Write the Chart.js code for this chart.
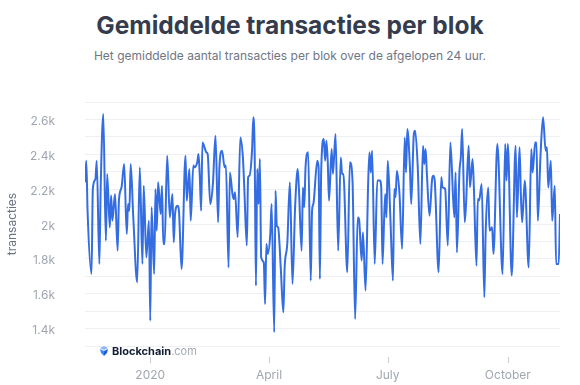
<!DOCTYPE html>
<html>
<head>
<meta charset="utf-8">
<script src="https://cdn.jsdelivr.net/npm/chart.js@4.4.0/dist/chart.umd.min.js"></script>
<style>
  html, body { margin: 0; padding: 0; background: #fff; }
  #wrap { position: relative; width: 580px; height: 385px; font-family: Inter, "Noto Sans", sans-serif; }
  #title { position: absolute; top: 9px; left: 0; width: 580px; margin: 0; text-align: center;
           font-size: 24.5px; font-weight: 700; line-height: 32px; color: #353c4d; }
  #subtitle { position: absolute; top: 47px; left: 0; width: 580px; margin: 0; text-align: center;
              font-size: 12px; line-height: 18px; color: #6f7685; }
  canvas { position: absolute; left: 0; top: 0; }
</style>
</head>
<body>
<div id="wrap">
  <h1 id="title">Gemiddelde transacties per blok</h1>
  <p id="subtitle">Het gemiddelde aantal transacties per blok over de afgelopen 24 uur.</p>
  <canvas id="chart" width="580" height="385"></canvas>
</div>
<script>
// day offsets from 1 Jan 2020 at each turn of the line
const days = [
  -50, -49, -48, -45, -44, -42, -41, -39, -38, -36, -34, -33, -31, -30, -29, -27, -25, -24, -22, -20,
  -18, -17, -16, -15, -13, -10, -8, -6, -5, -3, -1, 0, 1, 3, 4, 5, 6, 8, 9, 10,
  11, 13, 15, 17, 18, 19, 21, 22, 24, 27, 28, 30, 31, 33, 34, 36, 37, 38, 39, 40,
  42, 43, 44, 46, 48, 50, 52, 53, 55, 57, 58, 60, 61, 63, 64, 65, 67, 69, 71, 72,
  74, 75, 76, 78, 79, 80, 81, 82, 83, 84, 85, 87, 88, 89, 90, 92, 93, 95, 96, 97,
  98, 100, 102, 103, 105, 107, 109, 111, 113, 114, 116, 117, 118, 119, 121, 123, 124, 125, 128, 129,
  130, 131, 133, 134, 135, 136, 137, 139, 140, 142, 144, 146, 147, 148, 151, 153, 155, 157, 159, 160,
  162, 163, 165, 167, 168, 169, 170, 172, 174, 176, 177, 178, 180, 181, 182, 184, 186, 187, 188, 189,
  191, 193, 195, 196, 197, 199, 200, 202, 203, 205, 207, 209, 210, 211, 212, 214, 216, 217, 218, 221,
  223, 224, 226, 228, 230, 233, 234, 235, 237, 238, 239, 241, 242, 244, 245, 247, 248, 250, 251, 252,
  254, 256, 257, 259, 260, 262, 263, 266, 270, 272, 273, 274, 277, 280, 281, 283, 284, 285, 287, 290,
  292, 293, 295, 296, 297, 299, 301, 303, 304, 305, 307, 308, 310, 311, 313, 314
];
const txPerBlock = [
  2239, 2363, 2067, 1713, 2201, 2258, 2363, 1771, 2200, 2631, 1904, 2287, 1981, 2163, 2019, 2172, 1847, 2134, 2210, 2344,
  1943, 2115, 2076, 2344, 2038, 1665, 2325, 1771, 2220, 1809, 2019, 1445, 2096, 1713, 2200, 1962, 2239, 2057, 2220, 1885,
  1885, 2392, 2038, 2172, 1895, 2057, 2105, 2076, 1742, 2392, 2134, 2315, 2019, 2335, 2325, 2354, 2402, 2268, 2076, 2468,
  2430, 2411, 2402, 2115, 2229, 2507, 2010, 2325, 2421, 2325, 2335, 1751, 2296, 2172, 2143, 2182, 1924, 2497, 2382, 2220,
  1876, 2268, 2277, 2421, 2612, 2421, 1646, 2315, 2115, 2373, 1809, 1780, 1541, 1885, 1828, 1943, 2115, 1379, 2191, 1990,
  1981, 1751, 1493, 1751, 1885, 2239, 1656, 2096, 2315, 2191, 1847, 2210, 2096, 2325, 2411, 1675, 2076, 2115, 2363, 2325,
  1685, 2306, 2487, 2363, 2478, 2363, 2134, 2430, 2287, 2516, 1847, 2382, 2287, 2287, 1723, 2354, 2249, 1455, 2038, 2029,
  1790, 1952, 1618, 2239, 2411, 2296, 2421, 1771, 2249, 2249, 2210, 1771, 2172, 2038, 2363, 2038, 1675, 2201, 2153, 2306,
  2172, 1857, 2497, 2296, 2545, 2325, 2115, 2516, 2535, 2325, 1885, 2449, 2344, 2430, 2287, 2048, 2258, 2277, 2249, 1723,
  2268, 2210, 2201, 1876, 2468, 2038, 2296, 1837, 2306, 2382, 2545, 2010, 2115, 2449, 2210, 2373, 2210, 1761, 2143, 2134,
  2229, 1579, 1943, 2210, 1962, 1981, 1828, 2459, 1713, 2459, 2249, 2459, 1704, 2449, 2038, 2440, 2172, 2010, 2249, 1751,
  2430, 2296, 2468, 2468, 2019, 2382, 2612, 2421, 2440, 2210, 2363, 2019, 2220, 1771, 1771, 2057
];
const tickDays = [0, 91, 182, 274];
const tickLabels = ['2020', 'April', 'July', 'October'];

const decor = {
  id: 'decor',
  afterDraw(chart) {
    const ctx = chart.ctx;
    const x = chart.scales.x;
    const bottom = chart.chartArea.bottom;
    ctx.save();
    // short tick marks under the plot
    ctx.strokeStyle = '#c9cdd4';
    ctx.lineWidth = 1;
    tickDays.forEach(d => {
      const px = Math.round(x.getPixelForValue(d)) + 0.5;
      ctx.beginPath();
      ctx.moveTo(px, bottom + 11);
      ctx.lineTo(px, bottom + 17);
      ctx.stroke();
    });
    // Blockchain.com mark
    const lx = 100, ly = 351;
    ctx.fillStyle = '#8db7f8';
    ctx.beginPath();
    ctx.moveTo(lx, ly - 3); ctx.lineTo(lx + 4, ly - 5); ctx.lineTo(lx + 8, ly - 3); ctx.lineTo(lx + 4, ly - 1);
    ctx.closePath(); ctx.fill();
    ctx.fillStyle = '#3d89f5';
    ctx.beginPath();
    ctx.moveTo(lx, ly - 2); ctx.lineTo(lx + 4, ly); ctx.lineTo(lx + 4, ly + 5); ctx.lineTo(lx + 1, ly + 2);
    ctx.closePath(); ctx.fill();
    ctx.fillStyle = '#1f5fd6';
    ctx.beginPath();
    ctx.moveTo(lx + 8, ly - 2); ctx.lineTo(lx + 4, ly); ctx.lineTo(lx + 4, ly + 5); ctx.lineTo(lx + 7, ly + 2);
    ctx.closePath(); ctx.fill();
    ctx.textBaseline = 'middle';
    ctx.textAlign = 'left';
    ctx.font = 'bold 11px Inter, sans-serif';
    ctx.fillStyle = '#121d33';
    ctx.fillText('Blockchain', lx + 12, ly + 1);
    const w = ctx.measureText('Blockchain').width;
    ctx.font = '11px Inter, sans-serif';
    ctx.fillStyle = '#a4aab5';
    ctx.fillText('.com', lx + 12 + w, ly + 1);
    ctx.restore();
  }
};

const tickColor = '#a0a6b1';

new Chart(document.getElementById('chart'), {
  type: 'line',
  data: {
    datasets: [{
      label: 'transacties',
      data: days.map((d, i) => ({ x: d, y: txPerBlock[i] })),
      borderColor: '#346de2',
      borderWidth: 2,
      pointRadius: 0,
      cubicInterpolationMode: 'monotone',
      fill: false
    }]
  },
  options: {
    responsive: false,
    animation: false,
    devicePixelRatio: 1,
    layout: { padding: { top: 102, right: 20, bottom: 0, left: 0 } },
    plugins: {
      legend: { display: false },
      tooltip: { enabled: false }
    },
    scales: {
      x: {
        type: 'linear',
        min: -50,
        max: 314,
        afterBuildTicks: (scale) => { scale.ticks = tickDays.map(v => ({ value: v })); },
        afterFit: (scale) => { scale.height = 39; },
        grid: { display: false },
        border: { display: false },
        ticks: {
          autoSkip: false,
          maxRotation: 0,
          padding: 14,
          color: tickColor,
          font: { family: 'Inter', size: 12 },
          callback: (v) => tickLabels[tickDays.indexOf(v)]
        }
      },
      y: {
        min: 1300,
        max: 2700,
        afterFit: (scale) => { scale.width = 85; },
        grid: { color: '#eef0f3', drawTicks: false },
        border: { display: false },
        ticks: {
          stepSize: 100,
          padding: 30,
          labelOffset: 2,
          color: tickColor,
          font: { family: 'Inter', size: 12 },
          callback: (v) => (v % 200 === 0 ? (v / 1000) + 'k' : '')
        },
        title: {
          display: true,
          text: 'transacties',
          color: '#6b7280',
          font: { family: 'Inter', size: 12 },
          padding: { top: 5, bottom: 0 }
        }
      }
    }
  },
  plugins: [decor]
});
</script>
</body>
</html>
